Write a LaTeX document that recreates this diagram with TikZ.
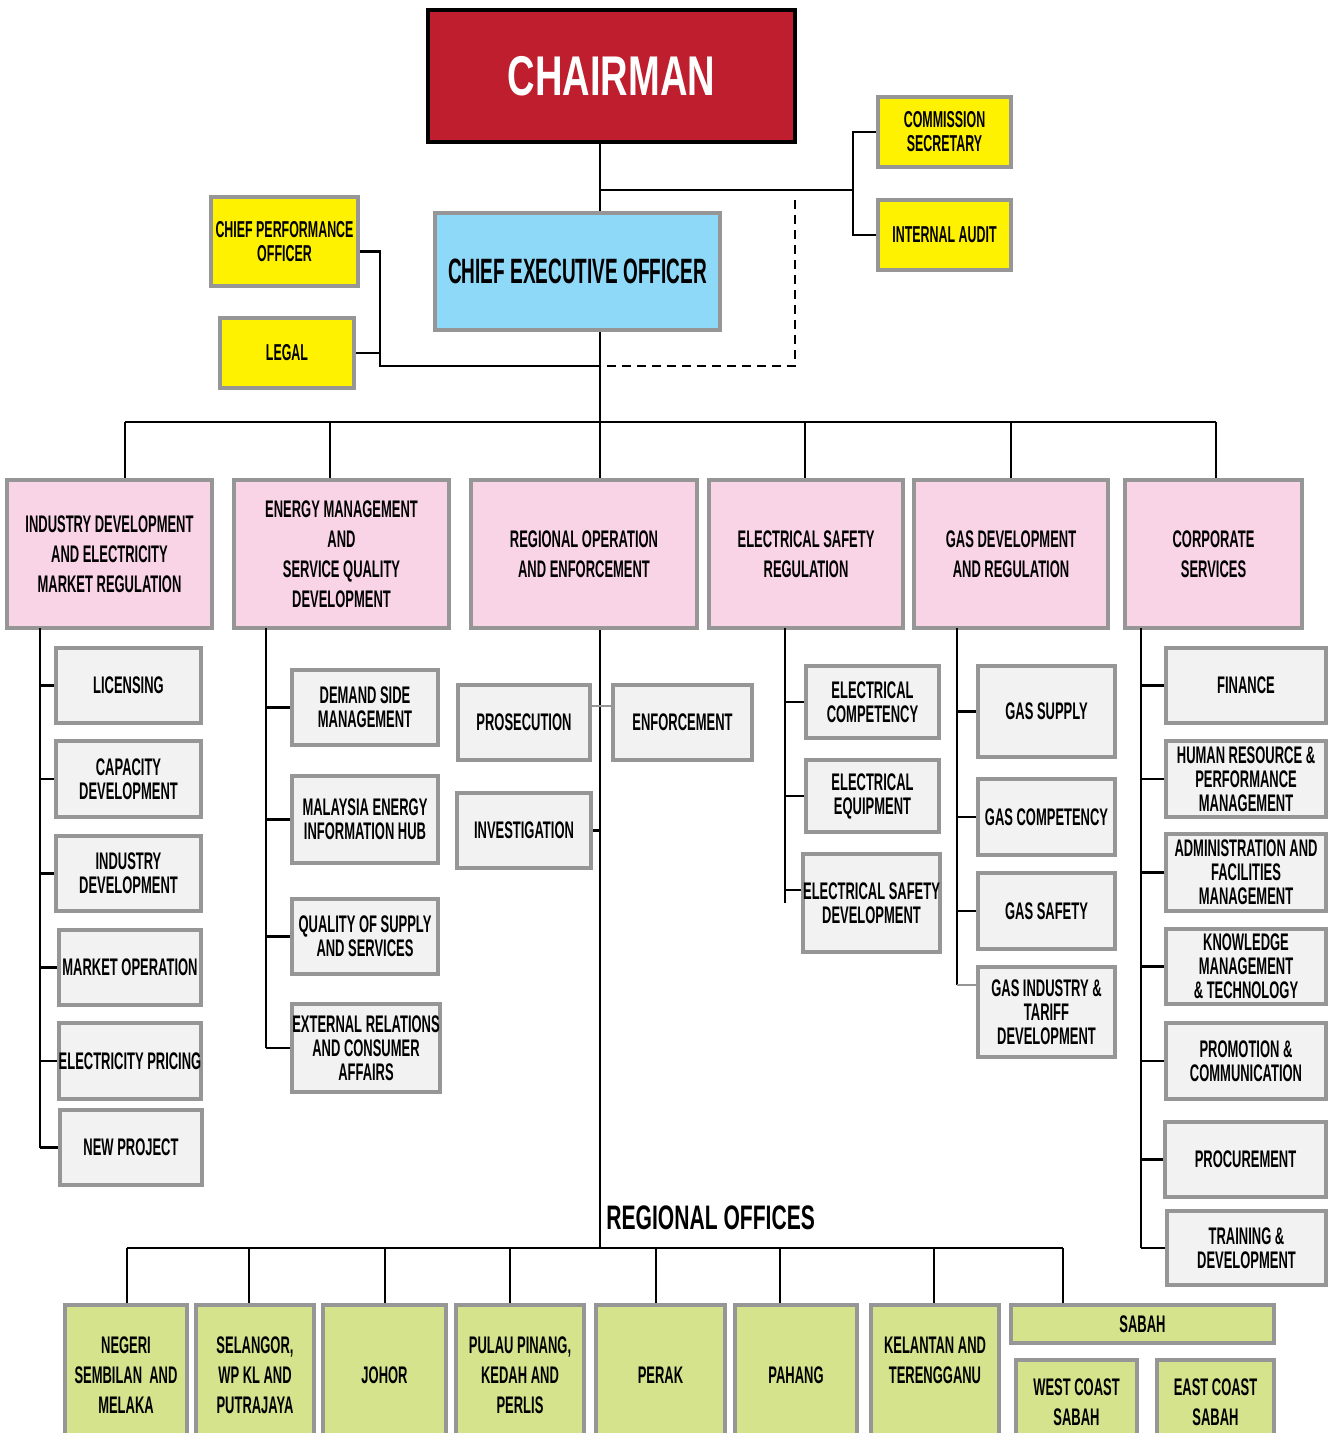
\documentclass[tikz,border=0pt]{standalone}
\usepackage{fontspec}
\setmainfont[FakeStretch=0.54]{Liberation Sans}
\newfontfamily\chairfont[FakeStretch=0.68]{Liberation Sans}
\newfontfamily\headfont[FakeStretch=0.62]{Liberation Sans}
\usetikzlibrary{positioning}

\definecolor{chairred}{RGB}{190,30,45}
\definecolor{ceoblue}{RGB}{142,216,248}
\definecolor{staffyellow}{RGB}{255,242,0}
\definecolor{divpink}{RGB}{249,211,230}
\definecolor{unitgray}{RGB}{242,242,242}
\definecolor{edgegray}{RGB}{150,150,150}
\definecolor{regiongreen}{RGB}{212,227,140}

\newlength\px
\setlength\px{0.5pt}

\begin{document}
\begin{tikzpicture}[
    x=0.5pt, y=-0.5pt,
    every node/.style={align=center, inner sep=0pt, font=\bfseries},
    boxed/.style={rectangle, draw=edgegray, line width=2pt},
    chair/.style={rectangle, draw=black, line width=1.6pt, fill=chairred, text=white,
        font=\chairfont\bfseries\fontsize{28}{30}\selectfont},
    ceobox/.style={boxed, fill=ceoblue, font=\bfseries\fontsize{17.6}{20}\selectfont},
    staff/.style={boxed, fill=staffyellow, font=\bfseries\fontsize{11.5}{12}\selectfont},
    division/.style={boxed, fill=divpink, minimum height=148\px, font=\bfseries\fontsize{12}{15}\selectfont},
    unit/.style={boxed, fill=unitgray, font=\bfseries\fontsize{12}{12}\selectfont},
    region/.style={boxed, fill=regiongreen, font=\bfseries\fontsize{12}{15}\selectfont},
    conn/.style={line width=1.2pt, black}
]
    \useasboundingbox (0,0) rectangle (1331,1433);
    \clip (0,0) rectangle (1331,1433);

    % top level
    \node[chair, minimum width=367\px, minimum height=132\px] (chairman) at (611.5,76) {CHAIRMAN};
    \node[staff, minimum width=133\px, minimum height=70\px] (csec) at (944.5,132) {COMMISSION\\SECRETARY};
    \node[staff, minimum width=133\px, minimum height=70\px] (iaudit) at (944.5,235) {INTERNAL AUDIT};
    \node[ceobox, minimum width=285\px, minimum height=117\px] (ceo) at (577.5,271.5) {CHIEF EXECUTIVE OFFICER};
    \node[staff, minimum width=147\px, minimum height=89\px] (cpo) at (284.5,241.5) {CHIEF PERFORMANCE\\OFFICER};
    \node[staff, minimum width=134\px, minimum height=70\px] (legal) at (287,353) {LEGAL};

    % divisions
    \node[division, minimum width=205\px] (d1) at (109.5,554) {INDUSTRY DEVELOPMENT\\AND ELECTRICITY\\MARKET REGULATION};
    \node[division, minimum width=215\px] (d2) at (341.5,554) {ENERGY MANAGEMENT\\AND\\SERVICE QUALITY\\DEVELOPMENT};
    \node[division, minimum width=226\px] (d3) at (584,554) {REGIONAL OPERATION\\AND ENFORCEMENT};
    \node[division, minimum width=194\px] (d4) at (806,554) {ELECTRICAL SAFETY\\REGULATION};
    \node[division, minimum width=194\px] (d5) at (1011,554) {GAS DEVELOPMENT\\AND REGULATION};
    \node[division, minimum width=177\px] (d6) at (1213.5,554) {CORPORATE\\SERVICES};

    % units of the first division
    \node[unit, minimum width=145\px, minimum height=75\px] (s11) at (128.5,685.5) {LICENSING};
    \node[unit, minimum width=145\px, minimum height=76\px] (s12) at (128.5,779) {CAPACITY\\DEVELOPMENT};
    \node[unit, minimum width=145\px, minimum height=75\px] (s13) at (128.5,873.5) {INDUSTRY\\DEVELOPMENT};
    \node[unit, minimum width=142\px, minimum height=75\px] (s14) at (130,967.5) {MARKET OPERATION};
    \node[unit, minimum width=142\px, minimum height=76\px] (s15) at (130,1061) {ELECTRICITY PRICING};
    \node[unit, minimum width=142\px, minimum height=75\px] (s16) at (131,1147.5) {NEW PROJECT};

    % units of the second division
    \node[unit, minimum width=146\px, minimum height=75\px] (s21) at (365,707.5) {DEMAND SIDE\\MANAGEMENT};
    \node[unit, minimum width=146\px, minimum height=87\px] (s22) at (365,819.5) {MALAYSIA ENERGY\\INFORMATION HUB};
    \node[unit, minimum width=146\px, minimum height=75\px] (s23) at (365,936.5) {QUALITY OF SUPPLY\\AND SERVICES};
    \node[unit, minimum width=148\px, minimum height=88\px] (s24) at (366,1048) {EXTERNAL RELATIONS\\AND CONSUMER\\AFFAIRS};

    % units of the third division
    \node[unit, minimum width=132\px, minimum height=75\px] (s31) at (524,722.5) {PROSECUTION};
    \node[unit, minimum width=139\px, minimum height=75\px] (s32) at (682.5,722.5) {ENFORCEMENT};
    \node[unit, minimum width=134\px, minimum height=75\px] (s33) at (524,830.5) {INVESTIGATION};

    % units of the fourth division
    \node[unit, minimum width=133\px, minimum height=72\px] (s41) at (872.5,702) {ELECTRICAL\\COMPETENCY};
    \node[unit, minimum width=133\px, minimum height=72\px] (s42) at (872.5,796) {ELECTRICAL\\EQUIPMENT};
    \node[unit, minimum width=137\px, minimum height=98\px] (s43) at (871.5,903) {ELECTRICAL SAFETY\\DEVELOPMENT};

    % units of the fifth division
    \node[unit, minimum width=137\px, minimum height=91\px] (s51) at (1046.5,711.5) {GAS SUPPLY};
    \node[unit, minimum width=137\px, minimum height=76\px] (s52) at (1046.5,817) {GAS COMPETENCY};
    \node[unit, minimum width=137\px, minimum height=76\px] (s53) at (1046.5,911) {GAS SAFETY};
    \node[unit, minimum width=137\px, minimum height=90\px] (s54) at (1046.5,1012) {GAS INDUSTRY \&\\TARIFF\\DEVELOPMENT};

    % units of the sixth division
    \node[unit, minimum width=160\px, minimum height=75\px] (s61) at (1246,685.5) {FINANCE};
    \node[unit, minimum width=160\px, minimum height=76\px] (s62) at (1246,779) {HUMAN RESOURCE \&\\PERFORMANCE\\MANAGEMENT};
    \node[unit, minimum width=160\px, minimum height=77\px] (s63) at (1246,872.5) {ADMINISTRATION AND\\FACILITIES\\MANAGEMENT};
    \node[unit, minimum width=160\px, minimum height=75\px] (s64) at (1246,966.5) {KNOWLEDGE\\MANAGEMENT\\\& TECHNOLOGY};
    \node[unit, minimum width=160\px, minimum height=76\px] (s65) at (1246,1061) {PROMOTION \&\\COMMUNICATION};
    \node[unit, minimum width=161\px, minimum height=75\px] (s66) at (1245.5,1159.5) {PROCUREMENT};
    \node[unit, minimum width=159\px, minimum height=74\px] (s67) at (1246.5,1248) {TRAINING \&\\DEVELOPMENT};

    % regional offices
    \node[anchor=west, font=\headfont\bfseries\fontsize{17}{18}\selectfont] (rtitle) at (606,1218) {REGIONAL OFFICES};
    \node[region, minimum width=122\px, minimum height=140\px] (r1) at (126,1375) {NEGERI\\SEMBILAN~ AND\\MELAKA};
    \node[region, minimum width=118\px, minimum height=140\px] (r2) at (255,1375) {SELANGOR,\\WP KL AND\\PUTRAJAYA};
    \node[region, minimum width=123\px, minimum height=140\px] (r3) at (384.5,1375) {JOHOR};
    \node[region, minimum width=128\px, minimum height=140\px] (r4) at (520,1375) {PULAU PINANG,\\KEDAH AND\\PERLIS};
    \node[region, minimum width=129\px, minimum height=140\px] (r5) at (660.5,1375) {PERAK};
    \node[region, minimum width=122\px, minimum height=140\px] (r6) at (796,1375) {PAHANG};
    \node[region, minimum width=128\px, minimum height=140\px] (r7) at (935,1375) {KELANTAN AND\\TERENGGANU\\~};
    \node[region, minimum width=263\px, minimum height=38\px] (sabah) at (1142.5,1324) {SABAH};
    \node[region, minimum width=121\px, minimum height=85\px] (r8) at (1076.5,1402.5) {WEST COAST\\SABAH};
    \node[region, minimum width=117\px, minimum height=85\px] (r9) at (1215.5,1402.5) {EAST COAST\\SABAH};

    % junctions
    \coordinate (cj) at (600,190);
    \coordinate (secj) at (853,190);
    \coordinate (dtop) at (795,200);
    \coordinate (dj) at (795,366);
    \coordinate (sj) at (380,366);
    \coordinate (b1) at (125,422);
    \coordinate (b2) at (330,422);
    \coordinate (b4) at (805,422);
    \coordinate (b5) at (1011,422);
    \coordinate (b6) at (1216,422);
    \coordinate (t1) at (40,628);
    \coordinate (t2) at (266,628);
    \coordinate (t4) at (785,628);
    \coordinate (t5) at (957,628);
    \coordinate (t6) at (1141,628);
    \coordinate (g1) at (127,1248);
    \coordinate (g2) at (249,1248);
    \coordinate (g3) at (385,1248);
    \coordinate (g4) at (510,1248);
    \coordinate (g5) at (656,1248);
    \coordinate (g6) at (780,1248);
    \coordinate (g7) at (934,1248);
    \coordinate (g8) at (1063,1248);

    % top connectors
    \draw[conn] (cj |- chairman.south) -- (cj |- ceo.north);
    \draw[conn] (cj) -- (secj);
    \draw[conn] (csec.west) -| (secj) |- (iaudit.west);
    \draw[conn, dash pattern=on 4.5pt off 3pt] (dtop) -- (dj) -- (cj |- dj);
    \draw[conn] ([yshift=-10\px]cpo.east) -| (sj) -- (cj |- sj);
    \draw[conn] (legal.east) -- (legal.east -| sj);
    \draw[conn] (cj |- ceo.south) -- (cj |- d3.north);

    % division bar
    \draw[conn] (b1) -- (b6);
    \draw[conn] (b1) -- (b1 |- d1.north);
    \draw[conn] (b2) -- (b2 |- d2.north);
    \draw[conn] (b4) -- (b4 |- d4.north);
    \draw[conn] (b5) -- (b5 |- d5.north);
    \draw[conn] (b6) -- (b6 |- d6.north);

    % first division
    \draw[conn] (t1) -- (t1 |- s16.west);
    \draw[conn] (t1 |- s11.west) -- (s11.west);
    \draw[conn] (t1 |- s12.west) -- (s12.west);
    \draw[conn] (t1 |- s13.west) -- (s13.west);
    \draw[conn] (t1 |- s14.west) -- (s14.west);
    \draw[conn] (t1 |- s15.west) -- (s15.west);
    \draw[conn] (t1 |- s16.west) -- (s16.west);

    % second division
    \draw[conn] (t2) -- (t2 |- s24.west);
    \draw[conn] (t2 |- s21.west) -- (s21.west);
    \draw[conn] (t2 |- s22.west) -- (s22.west);
    \draw[conn] (t2 |- s23.west) -- (s23.west);
    \draw[conn] (t2 |- s24.west) -- (s24.west);

    % third division
    \draw[conn] (cj |- d3.south) -- (cj |- g1);
    \draw[line width=1pt, edgegray] ([yshift=17\px]s31.east) -- ([yshift=17\px]s32.west);
    \draw[conn] (s33.east) -- (s33.east -| cj);

    % fourth division
    \draw[conn] (t4) -- (t4 |- s43.west);
    \draw[conn] (t4 |- s41.west) -- (s41.west);
    \draw[conn] (t4 |- s42.west) -- (s42.west);
    \draw[conn] ([yshift=13\px]t4 |- s43.west) -- ([yshift=13\px]s43.west);

    % fifth division
    \draw[conn] (t5) -- ([yshift=27\px]t5 |- s54.west);
    \draw[conn] (t5 |- s51.west) -- (s51.west);
    \draw[conn] (t5 |- s52.west) -- (s52.west);
    \draw[conn] (t5 |- s53.west) -- (s53.west);
    \draw[line width=1pt, edgegray] ([yshift=27\px]t5 |- s54.west) -- ([yshift=27\px]s54.west);

    % sixth division
    \draw[conn] (t6) -- (t6 |- s67.west);
    \draw[conn] (t6 |- s61.west) -- (s61.west);
    \draw[conn] (t6 |- s62.west) -- (s62.west);
    \draw[conn] (t6 |- s63.west) -- (s63.west);
    \draw[conn] (t6 |- s64.west) -- (s64.west);
    \draw[conn] (t6 |- s65.west) -- (s65.west);
    \draw[conn] (t6 |- s66.west) -- (s66.west);
    \draw[conn] (t6 |- s67.west) -- (s67.west);

    % regional bar
    \draw[conn] (g1) -- (g8);
    \draw[conn] (g1) -- (g1 |- r1.north);
    \draw[conn] (g2) -- (g2 |- r2.north);
    \draw[conn] (g3) -- (g3 |- r3.north);
    \draw[conn] (g4) -- (g4 |- r4.north);
    \draw[conn] (g5) -- (g5 |- r5.north);
    \draw[conn] (g6) -- (g6 |- r6.north);
    \draw[conn] (g7) -- (g7 |- r7.north);
    \draw[conn] (g8) -- (g8 |- sabah.north);
\end{tikzpicture}
\end{document}
